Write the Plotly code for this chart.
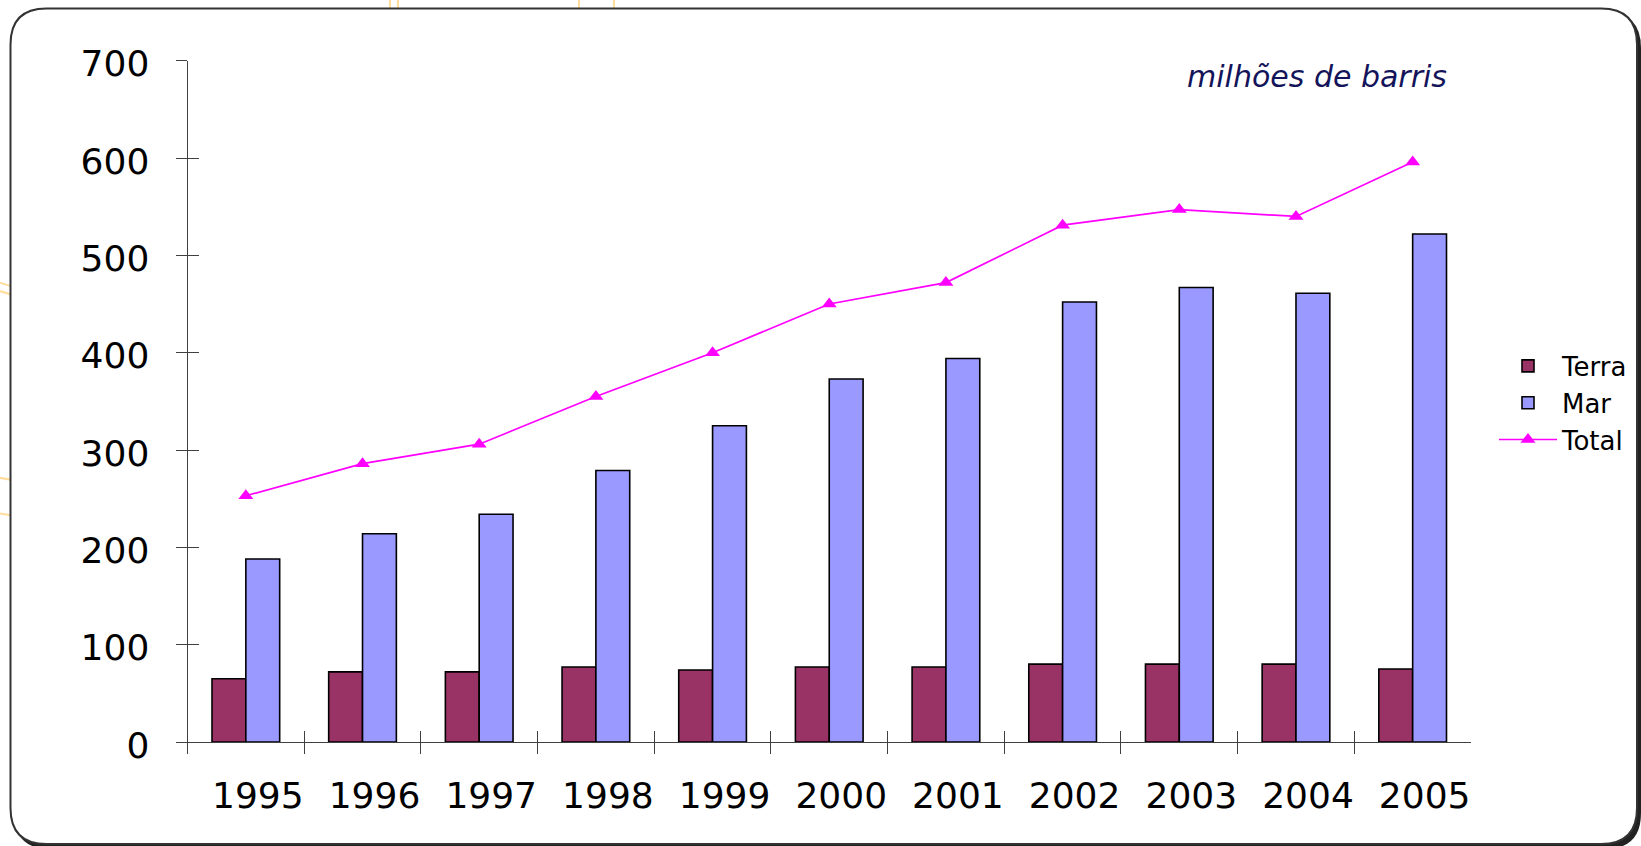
import plotly.graph_objects as go

W, H = 1641, 846

years = ['1995', '1996', '1997', '1998', '1999', '2000', '2001', '2002', '2003', '2004', '2005']
terra = [65, 72, 72, 77, 74, 77, 77, 80, 80, 80, 75]
mar = [188, 214, 234, 279, 325, 373, 394, 452, 467, 461, 522]
total = [253, 286, 306, 355, 400, 450, 472, 531, 547, 540, 596]

FONT = "DejaVu Sans"
AXC = "#404040"

def px(x):
    return x / W

def py(y):
    return 1 - y / H

fig = go.Figure()
fig.add_trace(go.Bar(x=years, y=terra, name="Terra",
                     marker=dict(color="#993366", line=dict(color="black", width=1.6))))
fig.add_trace(go.Bar(x=years, y=mar, name="Mar",
                     marker=dict(color="#9999FF", line=dict(color="black", width=1.6))))
fig.add_trace(go.Scatter(x=years, y=total, name="Total", mode="lines+markers",
                         line=dict(color="#FF00FF", width=1.7),
                         marker=dict(symbol="triangle-up", size=13, color="#FF00FF")))
# empty helper trace so the overlay axes (crossing ticks) are drawn
fig.add_trace(go.Scatter(x=[], y=[], xaxis="x2", yaxis="y2", showlegend=False, hoverinfo="skip"))

# background decoration: rounded frame and faint arcs
shapes = []
cx, cy = 94, 2
for r in [296, 304, 485, 520]:
    shapes.append(dict(type="circle", xref="paper", yref="paper",
                       x0=px(cx - r), x1=px(cx + r), y0=py(cy + r), y1=py(cy - r),
                       line=dict(color="#FFDC9A", width=2), layer="below"))

def rrect(x0, y0, x1, y1, r):
    return (f"M {px(x0 + r)},{py(y0)} L {px(x1 - r)},{py(y0)} Q {px(x1)},{py(y0)} {px(x1)},{py(y0 + r)} "
            f"L {px(x1)},{py(y1 - r)} Q {px(x1)},{py(y1)} {px(x1 - r)},{py(y1)} "
            f"L {px(x0 + r)},{py(y1)} Q {px(x0)},{py(y1)} {px(x0)},{py(y1 - r)} "
            f"L {px(x0)},{py(y0 + r)} Q {px(x0)},{py(y0)} {px(x0 + r)},{py(y0)} Z")

shapes.append(dict(type="path", xref="paper", yref="paper", path=rrect(14, 12, 1641, 849, 36),
                   fillcolor="#222222", line=dict(width=0), layer="below"))
shapes.append(dict(type="path", xref="paper", yref="paper", path=rrect(10.5, 8.5, 1637, 844, 36),
                   fillcolor="white", line=dict(color="#333333", width=2), layer="below"))

fig.update_layout(
    width=W, height=H,
    margin=dict(l=0, r=0, t=0, b=0),
    paper_bgcolor="white", plot_bgcolor="rgba(0,0,0,0)",
    barmode="group", bargap=0.42, bargroupgap=0,
    font=dict(family=FONT, color="black"),
    shapes=shapes,
    xaxis=dict(domain=[px(187.5), px(1471)], type="category", range=[-0.5, 10.5],
               tickson="boundaries", ticks="outside", ticklen=11, tickcolor=AXC, tickwidth=1,
               showline=True, linecolor=AXC, linewidth=1, showgrid=False, zeroline=False,
               tickfont=dict(size=36, family=FONT, color="black"), ticklabelstandoff=22,
               ticklabelshift=12, automargin=False, fixedrange=True),
    yaxis=dict(domain=[py(742), py(60.7)], range=[0, 700], tickmode="linear", tick0=0, dtick=100,
               ticks="outside", ticklen=11, tickcolor=AXC, tickwidth=1,
               showline=True, linecolor=AXC, linewidth=1, showgrid=False, zeroline=False,
               tickfont=dict(size=36, family=FONT, color="black"), ticklabelstandoff=19,
               ticklabelshift=3, automargin=False, fixedrange=True),
    xaxis2=dict(overlaying="x", anchor="y", range=[-0.5, 10.5], tickmode="linear", tick0=-0.5, dtick=1,
                ticks="inside", ticklen=11, tickcolor=AXC, tickwidth=1, showticklabels=False,
                showline=False, showgrid=False, zeroline=False, fixedrange=True),
    yaxis2=dict(overlaying="y", anchor="x", range=[0, 700], tickmode="linear", tick0=0, dtick=100,
                ticks="inside", ticklen=11, tickcolor=AXC, tickwidth=1, showticklabels=False,
                showline=False, showgrid=False, zeroline=False, fixedrange=True),
    legend=dict(x=px(1494), y=py(403), xanchor="left", yanchor="middle",
                font=dict(size=26, family=FONT, color="black"),
                bgcolor="rgba(0,0,0,0)", itemwidth=58, tracegroupgap=0, traceorder="normal"),
    annotations=[dict(text="milhões de barris", xref="paper", yref="paper",
                      x=px(1449), y=py(77), xanchor="right", yanchor="middle", showarrow=False,
                      font=dict(size=30, family=FONT, color="#14145A", style="italic"))],
)

fig.write_html("out.html")
